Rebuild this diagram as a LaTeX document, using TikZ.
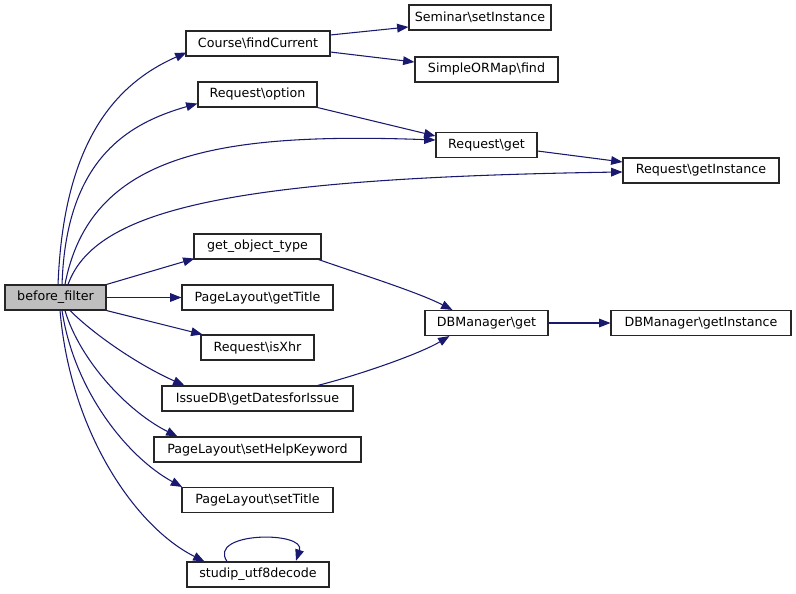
\documentclass[tikz,border=0pt]{standalone}
\usepackage{fontspec}
\setmainfont{DejaVu Sans}
\usetikzlibrary{arrows.meta}
\definecolor{edgecol}{HTML}{191970}
\definecolor{curfill}{HTML}{BFBFBF}
\newcommand{\bs}{\textbackslash}
\begin{document}
\begin{tikzpicture}[x=0.75pt,y=-0.75pt,
  box/.style={draw=black!85, fill=white, line width=0.8pt, minimum height=18.75pt, inner sep=0pt,
    font=\fontsize{9.5}{11}\selectfont},
  bw/.style={minimum width=#1*0.75pt},
  edge/.style={draw=edgecol, line width=0.8pt, -{Triangle[length=8.5pt,width=6.5pt]}}]
\useasboundingbox (0,0) rectangle (796,593);

\node[box, bw=101, fill=curfill] (bf) at (55.5,297.5) {before\_filter};
\node[box, bw=144] (course) at (258,43.5) {Course\bs findCurrent};
\node[box, bw=142] (seminar) at (480,17.5) {Seminar\bs setInstance};
\node[box, bw=143] (simple) at (486.5,69.5) {SimpleORMap\bs find};
\node[box, bw=119] (option) at (257.5,94.5) {Request\bs option};
\node[box, bw=101] (rget) at (486.5,145) {Request\bs get};
\node[box, bw=156] (rgi) at (701,170.5) {Request\bs getInstance};
\node[box, bw=127] (got) at (257.5,246.5) {get\_object\_type};
\node[box, bw=151] (pgt) at (257.5,297.5) {PageLayout\bs getTitle};
\node[box, bw=113] (xhr) at (257.5,347.5) {Request\bs isXhr};
\node[box, bw=191] (issue) at (257.5,398.5) {IssueDB\bs getDatesforIssue};
\node[box, bw=207] (help) at (257.5,449.5) {PageLayout\bs setHelpKeyword};
\node[box, bw=151] (settitle) at (257.5,500) {PageLayout\bs setTitle};
\node[box, bw=142] (utf) at (258,574.5) {studip\_utf8decode};
\node[box, bw=123] (dbget) at (486.5,323) {DBManager\bs get};
\node[box, bw=180] (dbgi) at (701,323) {DBManager\bs getInstance};

% edges from before_filter (upwards)
\draw[edge] ([xshift=1.9pt]bf.north) .. controls +(5,-130) and +(-80,35) .. ([xshift=0.75pt,yshift=3pt]course.south west);
\draw[edge] ([xshift=4.9pt]bf.north) .. controls +(4,-125) and +(-70,20) .. ([yshift=3pt]option.south west);
\draw[edge] ([xshift=7.1pt]bf.north) .. controls +(25,-130) and +(-220,-8) .. ([yshift=3.75pt]rget.west);
\draw[edge] ([xshift=9.4pt]bf.north) .. controls +(27,-75) and +(-393,6) .. ([yshift=-1.1pt]rgi.west);
% straight edges
\draw[edge] (bf.north east) -- ([xshift=0.75pt,yshift=0.75pt]got.south west);
\draw[edge] (bf) -- (pgt);
\draw[edge] (bf.south east) -- ([xshift=1.5pt]xhr.north west);
% edges from before_filter (downwards)
\draw[edge] ([xshift=10.9pt]bf.south) .. controls +(25,25) and +(-45,-20) .. ([xshift=17.25pt]issue.north west);
\draw[edge] ([xshift=7.1pt]bf.south) .. controls +(15,50) and +(-50,-25) .. ([xshift=18pt]help.north west);
\draw[edge] ([xshift=4.9pt]bf.south) .. controls +(12,80) and +(-55,-30) .. ([xshift=0.5pt]settitle.north west);
\draw[edge] ([xshift=3.4pt]bf.south) .. controls +(10,120) and +(-70,-35) .. ([xshift=13.5pt]utf.north west);
% self loop
\draw[edge] ([xshift=-23.25pt]utf.north) .. controls +(-20,-30) and +(10,-30) .. ([xshift=28.5pt,yshift=0.5pt]utf.north);
% second level
\draw[edge] ([yshift=6.4pt]course.east) -- ([yshift=-7.1pt]seminar.west);
\draw[edge] ([yshift=-6.4pt]course.east) -- ([yshift=5.6pt]simple.west);
\draw[edge] (option.south east) -- ([yshift=6.75pt]rget.west);
\draw[edge] ([yshift=-4.5pt]rget.east) -- ([yshift=6.4pt]rgi.west);
\draw[edge] ([xshift=-2.25pt]got.south east) .. controls +(40,14) and +(-35,-18) .. ([xshift=21pt]dbget.north west);
\draw[edge] ([xshift=-27pt]issue.north east) .. controls +(40,-10) and +(-30,18) .. ([xshift=18.75pt]dbget.south west);
\draw[edge] (dbget) -- (dbgi);
\end{tikzpicture}
\end{document}
